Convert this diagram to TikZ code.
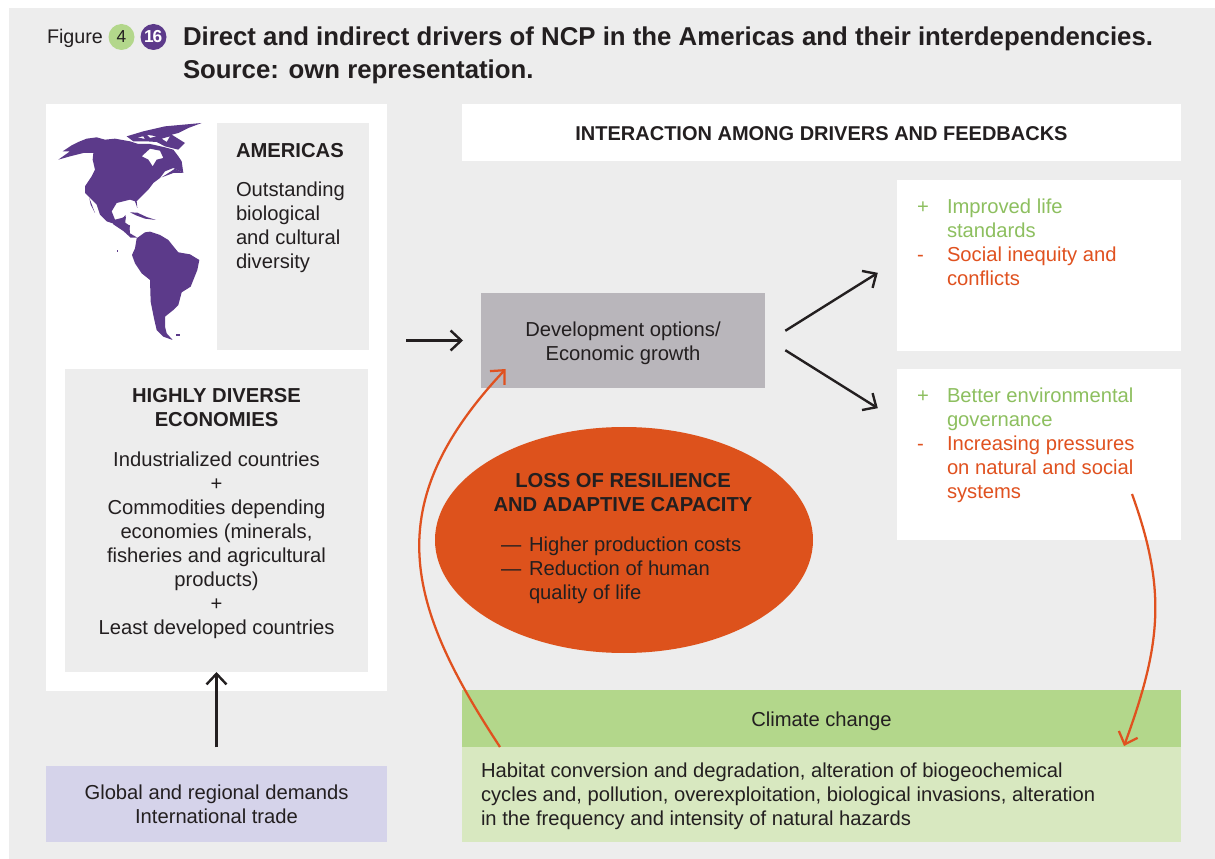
\documentclass[tikz,border=0pt]{standalone}
\usepackage{fontspec}
\setmainfont{Liberation Sans}
\usetikzlibrary{arrows.meta,shapes.geometric,calc}
\definecolor{bgGray}{HTML}{EDEDED}
\definecolor{inkDark}{HTML}{231F20}
\definecolor{mapPurple}{HTML}{5C3A8A}
\definecolor{devGray}{HTML}{B9B6BB}
\definecolor{lavender}{HTML}{D5D3EA}
\definecolor{climateGreen}{HTML}{B3D78B}
\definecolor{paleGreen}{HTML}{D8E8C0}
\definecolor{textGreen}{HTML}{8DBF5F}
\definecolor{orangeLine}{HTML}{E0511F}
\definecolor{blobOrange}{HTML}{DD521C}
\newcommand{\bodyfont}{\fontsize{15.15}{18}\selectfont}
\tikzset{
  x=0.75pt,y=-0.75pt,
  panel/.style={anchor=north west,inner sep=0,outer sep=0,draw=none},
  txt/.style={inner sep=0,outer sep=0,text=inkDark,font=\bodyfont},
  txtl/.style={txt,anchor=north west,align=left},
  txtc/.style={txt,anchor=north,align=center},
  blackarrow/.style={draw=inkDark,line width=1.8pt,-{Straight Barb[length=8pt,width=15pt,line width=1.8pt]}},
  orangearrow/.style={draw=orangeLine,line width=1.7pt,-{Straight Barb[length=8pt,width=15pt,line width=1.7pt]}},
  badge/.style={circle,minimum size=19.5pt,inner sep=0,font=\fontsize{13}{14}\selectfont},
}
\begin{document}
\begin{tikzpicture}
\useasboundingbox (0,0) rectangle (1215,859);
\fill[bgGray] (9,8) rectangle (1215,859);
% title
\node[txtl,font=\fontsize{14.8}{18}\selectfont] (figlabel) at (47,27) {\strut Figure};
\node[badge,fill=climateGreen,text=inkDark] (b4) at (121.5,37) {4};
\node[badge,fill=mapPurple,text=white,font=\fontsize{13}{14}\bfseries\selectfont] (b16) at (153.5,37) {\kern-0.5pt 1\kern-1pt 6};
\node[txtl,font=\fontsize{19.34}{24.75}\bfseries\selectfont] (title) at (183,22.5) {\strut Direct and indirect drivers of NCP in the Americas and their interdependencies.\\\strut Source: own representation.};
% left panel
\node[panel,fill=white,minimum width=255.75pt,minimum height=440.25pt] (leftpanel) at (46,104) {};
\node[panel,fill=bgGray,minimum width=114pt,minimum height=170.25pt] (amerbox) at (217,123) {};
\node[txtl,font=\bodyfont\bfseries] (amerhead) at (236,141) {\strut AMERICAS};
\node[txtl] (amertext) at (236,180) {\strut Outstanding\\\strut biological\\\strut and cultural\\\strut diversity};
% map: North America
\begin{scope}[shift={(50,118)},x=0.25pt,y=-0.25pt]
\fill[mapPurple,even odd rule] (25,125) -- (60,100) -- (38,100) -- (65,82) -- (85,72) -- (110,62) -- (140,58) -- (165,65) -- (195,62) -- (240,70) -- (265,78) -- (300,78) -- (345,88) -- (370,95) -- (385,115) -- (395,130) -- (400,165) -- (370,150) -- (345,160) -- (330,180) -- (310,195) -- (295,215) -- (280,230) -- (260,250) -- (262,270) -- (255,250) -- (240,245) -- (200,255) -- (185,280) -- (195,305) -- (215,300) -- (228,295) -- (225,318) -- (240,322) -- (236,345) -- (225,340) -- (200,320) -- (170,310) -- (150,290) -- (140,260) -- (120,240) -- (105,225) -- (105,205) -- (125,175) -- (135,155) -- (128,125) -- (130,105) -- (100,105) -- (60,115) -- cycle
 (275,115) -- (300,92) -- (330,98) -- (340,120) -- (320,125) -- (308,145) -- (295,125) -- cycle;
\fill[mapPurple,even odd rule] (230,55) -- (280,40) -- (345,25) -- (455,15) -- (415,30) -- (385,45) -- (365,50) -- (405,75) -- (385,95) -- (345,85) -- (320,72) -- (290,70) -- (250,70) -- cycle
 (290,50) -- (320,55) -- (300,60) -- cycle
 (335,62) -- (360,55) -- (350,72) -- cycle
 (262,58) -- (280,55) -- (285,63) -- cycle;
\fill[mapPurple] (335,178) -- (375,152) -- (400,165) -- (370,165) -- cycle;
\fill[mapPurple] (118,240) -- (135,285) -- (122,260) -- cycle;
\fill[mapPurple] (240,283) -- (262,284) -- (290,297) -- (318,306) -- (285,302) -- (258,292) -- cycle;
\end{scope}
% map: Central and South America
\begin{scope}[shift={(110,205)},x=0.25pt,y=-0.25pt]
\fill[mapPurple] (5,45) -- (30,48) -- (47,30) -- (42,50) -- (58,62) -- (60,85) -- (82,98) -- (62,98) -- (40,78) -- (10,58) -- cycle;
\fill[mapPurple] (80,100) -- (105,82) -- (120,80) -- (150,90) -- (175,105) -- (195,130) -- (205,142) -- (240,148) -- (268,165) -- (262,195) -- (250,225) -- (242,245) -- (215,262) -- (205,300) -- (190,315) -- (165,335) -- (165,365) -- (170,385) -- (188,405) -- (160,395) -- (140,375) -- (132,340) -- (122,290) -- (120,225) -- (95,205) -- (75,175) -- (66,150) -- (75,130) -- cycle;
\fill[mapPurple] (198,388) rectangle (210,392);
\fill[mapPurple] (20,136) rectangle (24,140);
\end{scope}
% highly diverse
\node[panel,fill=bgGray,minimum width=227.25pt,minimum height=227.25pt] (hdbox) at (65,369) {};
\node[txtc,font=\bodyfont\bfseries] (hdhead) at (216.5,386) {\strut HIGHLY DIVERSE\\\strut ECONOMIES};
\node[txtc] (hdtext) at (216.5,449.2) {\strut Industrialized countries\\\strut +\\\strut Commodities depending\\\strut economies (minerals,\\\strut fisheries and agricultural\\\strut products)\\\strut +\\\strut Least developed countries};
% demand
\node[panel,fill=lavender,minimum width=255.75pt,minimum height=57pt] (demand) at (46,766) {};
\node[txtc] (demandtxt) at (216.5,782.2) {\strut Global and regional demands\\\strut International trade};
\draw[blackarrow,shorten <=14pt] (demand.north) -- (hdbox.south);
% interaction header
\node[panel,fill=white,minimum width=539.25pt,minimum height=42.75pt] (interbox) at (462,104) {};
\node[txtc,font=\fontsize{15}{18}\bfseries\selectfont] (intertxt) at (821.5,124) {\strut INTERACTION AMONG DRIVERS AND FEEDBACKS};
% development
\node[panel,fill=devGray,minimum width=213pt,minimum height=71.25pt] (dev) at (481,293) {};
\node[txtc] (devtxt) at (623,320) {\strut Development options/\\\strut Economic growth};
\draw[blackarrow,shorten <=14.25pt,shorten >=13.5pt] (leftpanel.east |- dev.west) -- (dev.west);
% outcome boxes
\node[panel,fill=white,minimum width=213pt,minimum height=128.25pt] (outa) at (897,180) {};
\node[txtl,text=textGreen] (outap) at (917,197) {\strut +};
\node[txtl,text=textGreen] (outag) at (947,197) {\strut Improved life\\\strut standards};
\node[txtl,text=orangeLine] (outam) at (917,245) {\strut -};
\node[txtl,text=orangeLine] (outao) at (947,245) {\strut Social inequity and\\\strut conflicts};
\node[panel,fill=white,minimum width=213pt,minimum height=128.25pt] (outb) at (897,369) {};
\node[txtl,text=textGreen] (outbp) at (917,386) {\strut +};
\node[txtl,text=textGreen] (outbg) at (947,386) {\strut Better environmental\\\strut governance};
\node[txtl,text=orangeLine] (outbm) at (917,434) {\strut -};
\node[txtl,text=orangeLine] (outbo) at (947,434) {\strut Increasing pressures\\\strut on natural and social\\\strut systems};
\coordinate (ta) at (897,260.8);
\coordinate (tb) at (897,420.2);
\coordinate (sa) at (765,343.5);
\coordinate (sb) at (765,337.5);
\draw[blackarrow,shorten <=18pt,shorten >=17pt] (sa) -- (ta);
\draw[blackarrow,shorten <=18pt,shorten >=17pt] (sb) -- (tb);
% ellipse
\node[ellipse,fill=blobOrange,inner sep=0,minimum width=283.5pt,minimum height=169.5pt] (blob) at (624,540) {};
\node[txtc,font=\bodyfont\bfseries] (blobhead) at (623,471) {\strut LOSS OF RESILIENCE\\\strut AND ADAPTIVE CAPACITY};
\node[txtl] (blobd1) at (501,534.8) {\strut —};
\node[txtl] (blobt1) at (529,534.8) {\strut Higher production costs};
\node[txtl] (blobd2) at (501,558.2) {\strut —};
\node[txtl] (blobt2) at (529,558.2) {\strut Reduction of human\\\strut quality of life};
% climate
\node[panel,fill=climateGreen,minimum width=539.25pt,minimum height=42.75pt] (climate) at (462,690) {};
\node[txtc] (climatetxt) at (821.5,709.2) {\strut Climate change};
\node[panel,fill=paleGreen,minimum width=539.25pt,minimum height=71.25pt] (habitat) at (462,747) {};
\node[txtl] (habitattxt) at (481,760.2) {\strut Habitat conversion and degradation, alteration of biogeochemical\\\strut cycles and, pollution, overexploitation, biological invasions, alteration\\\strut in the frequency and intensity of natural hazards};
% feedback curves
\coordinate (fa) at (500,747);
\coordinate (fb) at (505.7,369);
\coordinate (fc) at (1132,494);
\coordinate (fd) at (1124,746);
\draw[orangearrow] (fa) .. controls (406,604) and (378,505) .. (fb);
\draw[orangearrow] (fc) .. controls (1167,591) and (1161,645) .. (fd);
\end{tikzpicture}
\end{document}
